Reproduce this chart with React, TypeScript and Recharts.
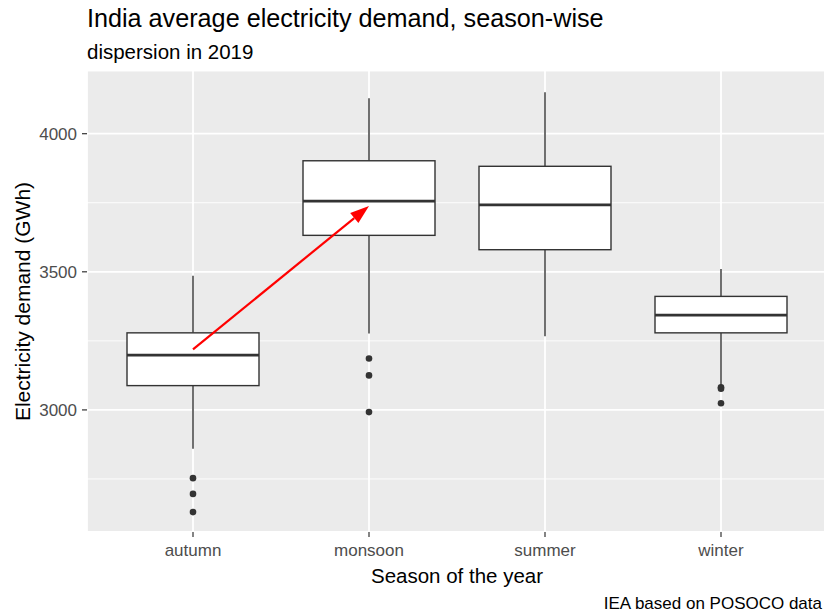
import { ComposedChart, Bar, XAxis, YAxis, CartesianGrid, ReferenceLine, Label } from 'recharts';

const SEASONS = ['autumn', 'monsoon', 'summer', 'winter'];
const WHISKER_LOW = [2859, 3277, 3267, 3090];
const Q1 = [3088, 3632, 3580, 3279];
const MEDIAN = [3198, 3756, 3742, 3343];
const Q3 = [3279, 3902, 3882, 3411];
const WHISKER_HIGH = [3486, 4128, 4150, 3510];
const OUTLIERS = [[2753, 2696, 2630], [3186, 3125, 2992], [], [3082, 3077, 3024]];
const Y_TICKS = [2750, 3000, 3250, 3500, 3750, 4000];
const MAJOR_TICKS = [3000, 3500, 4000];
const ARROW_FROM = { season: 'autumn', value: 3219 };
const ARROW_TO = { season: 'monsoon', value: 3738 };

const data = SEASONS.map((season, i) => ({
    season,
    low: WHISKER_LOW[i],
    q1: Q1[i],
    median: MEDIAN[i],
    q3: Q3[i],
    high: WHISKER_HIGH[i],
    outliers: OUTLIERS[i],
}));

const INK = '#333333';
const FONT = '"Liberation Sans", Arial, sans-serif';

// whole box-and-whisker, scaled from the range bar the library lays out
const BoxShape = (props: any) => {
    const { x, y, width, height } = props;
    const p = props.payload ?? props;
    const k = height / (p.high - p.low);
    const py = (v: number) => y + (p.high - v) * k;
    const cx = x + width / 2;
    return (
        <g>
            <line x1={cx} x2={cx} y1={py(p.high)} y2={py(p.q3)} stroke={INK} strokeWidth={1.4} />
            <line x1={cx} x2={cx} y1={py(p.q1)} y2={py(p.low)} stroke={INK} strokeWidth={1.4} />
            <rect x={x} y={py(p.q3)} width={width} height={py(p.q1) - py(p.q3)} fill="#FFFFFF" stroke={INK} strokeWidth={1.4} />
            <line x1={x} x2={x + width} y1={py(p.median)} y2={py(p.median)} stroke={INK} strokeWidth={2.8} />
            {p.outliers.map((v: number, j: number) => (
                <circle key={j} cx={cx} cy={py(v)} r={3.3} fill={INK} />
            ))}
        </g>
    );
};

const ArrowShape = (props: any) => {
    const { x1, y1, x2, y2 } = props;
    const ang = Math.atan2(y2 - y1, x2 - x1);
    const len = 19;
    const half = 6.5;
    const bx = x2 - len * Math.cos(ang);
    const by = y2 - len * Math.sin(ang);
    const nx = -Math.sin(ang) * half;
    const ny = Math.cos(ang) * half;
    return (
        <g>
            <line x1={x1} y1={y1} x2={bx} y2={by} stroke="#FF0000" strokeWidth={2.2} />
            <polygon points={`${x2},${y2} ${bx + nx},${by + ny} ${bx - nx},${by - ny}`} fill="#FF0000" />
        </g>
    );
};

const YTick = (props: any) => {
    const { x, y, payload } = props;
    if (!MAJOR_TICKS.includes(payload.value)) return <g />;
    return (
        <g>
            <line x1={x + 5} x2={x + 10} y1={y} y2={y} stroke={INK} strokeWidth={1.2} />
            <text x={x} y={y} dy="0.355em" textAnchor="end" fill="#4D4D4D" fontSize={17}>
                {payload.value}
            </text>
        </g>
    );
};

const gridLine = (props: any) => (
    <line
        key={props.key}
        x1={props.x1}
        x2={props.x2}
        y1={props.y1}
        y2={props.y2}
        stroke="#FFFFFF"
        strokeWidth={props.index % 2 === 1 ? 1.8 : 0.9}
    />
);

export default function App() {
    return (
        <div style={{ position: 'relative', width: 824, height: 613, overflow: 'hidden', fontFamily: FONT, background: '#FFFFFF' }}>
            <style>{`body { margin: 0; }`}</style>
            <ComposedChart
                width={830}
                height={613}
                data={data}
                margin={{ top: 71, right: 3, bottom: 21, left: 0 }}
            >
                <CartesianGrid fill="#EBEBEB" stroke="#FFFFFF" strokeWidth={1.8} horizontal={gridLine} />
                <XAxis
                    dataKey="season"
                    type="category"
                    padding={{ left: 18, right: 18 }}
                    height={60}
                    axisLine={false}
                    tickLine={{ stroke: INK, strokeWidth: 1.2 }}
                    tickSize={5}
                    tickMargin={7}
                    tick={{ fill: '#4D4D4D', fontSize: 17 }}
                >
                    <Label value="Season of the year" position="insideBottom" offset={9} fill="#000000" fontSize={20.5} />
                </XAxis>
                <YAxis
                    type="number"
                    width={87}
                    domain={[2558, 4227]}
                    allowDataOverflow
                    ticks={Y_TICKS}
                    interval={0}
                    axisLine={false}
                    tickLine={false}
                    tickSize={5}
                    tickMargin={5}
                    tick={YTick}
                >
                    <Label value="Electricity demand (GWh)" angle={-90} position="insideLeft" offset={23} fill="#000000" fontSize={21} style={{ textAnchor: 'middle' }} />
                </YAxis>
                <Bar dataKey={(d: any) => [d.low, d.high]} barSize={132} shape={BoxShape} isAnimationActive={false} />
                <ReferenceLine
                    segment={[
                        { x: ARROW_FROM.season, y: ARROW_FROM.value },
                        { x: ARROW_TO.season, y: ARROW_TO.value },
                    ]}
                    shape={ArrowShape}
                />
            </ComposedChart>
            <svg width={824} height={613} style={{ position: 'absolute', left: 0, top: 0, pointerEvents: 'none' }}>
                <text x={87} y={27} fontSize={25.2} fill="#000000">India average electricity demand, season-wise</text>
                <text x={87} y={59} fontSize={20.5} fill="#000000">dispersion in 2019</text>
                <text x={822} y={609} fontSize={17} fill="#000000" textAnchor="end">IEA based on POSOCO data</text>
            </svg>
        </div>
    );
}
